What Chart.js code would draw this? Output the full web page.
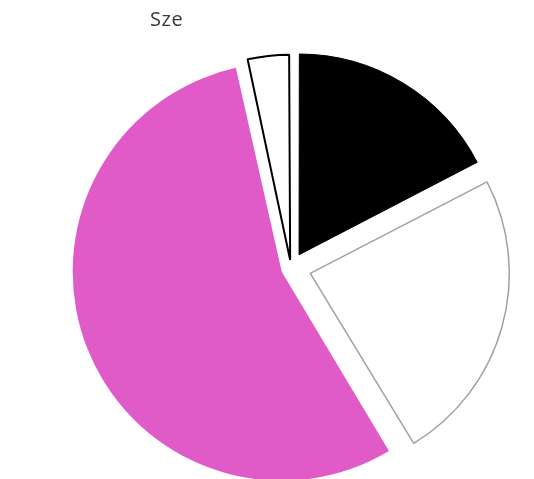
<!DOCTYPE html>
<html>
<head>
<meta charset="utf-8">
<script src="https://cdn.jsdelivr.net/npm/chart.js@4"></script>
<style>
  html, body { margin: 0; padding: 0; background: #ffffff; }
  #wrap { position: relative; width: 534px; height: 479px; }
  #title { position: absolute; left: 150px; top: 9px; font-family: "Open Sans", "Liberation Sans", sans-serif;
           font-size: 20px; line-height: 20px; color: #3a3a3a; letter-spacing: 0.6px; white-space: nowrap; }
  canvas { position: absolute; left: 0; top: 0; }
</style>
</head>
<body>
<div id="wrap">
  <canvas id="c" width="534" height="479" style="width:534px;height:479px"></canvas>
  <div id="title">Sze</div>
</div>
<script>
const categories = ["A", "B", "C", "D"];
const values = [17.4, 23.9, 55.3, 3.4];
const sliceColors = ["#000000", "#ffffff", "#e05ac8", "#ffffff"];
const borderColors = ["#000000", "#9aa3a3", "#e05ac8", "#000000"];
const borderWidths = [1, 1.5, 0, 2];
const sliceOffsets = [62, 80, 40, 32];

new Chart(document.getElementById("c"), {
  type: "pie",
  data: {
    labels: categories,
    datasets: [{
      data: values,
      backgroundColor: sliceColors,
      borderColor: borderColors,
      borderWidth: borderWidths,
      offset: sliceOffsets,
      hoverOffset: 0,
      radius: 199
    }]
  },
  options: {
    responsive: false,
    animation: false,
    devicePixelRatio: 1,
    events: [],
    layout: { padding: { left: 48, right: 0, top: 57, bottom: 0 } },
    plugins: {
      legend: { display: false },
      tooltip: { enabled: false },
      title: { display: false }
    }
  }
});
</script>
</body>
</html>
